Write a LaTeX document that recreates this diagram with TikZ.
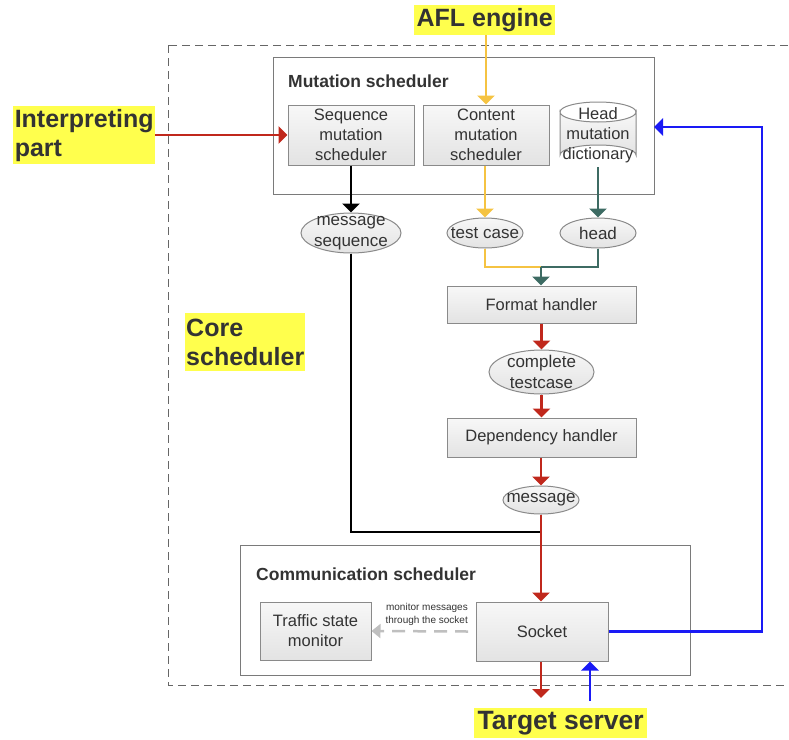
\documentclass[tikz,border=0pt]{standalone}
\usepackage{fontspec}
\setmainfont{Liberation Sans}
\usetikzlibrary{arrows.meta,shapes.geometric,calc}
\definecolor{redA}{HTML}{C0281C}
\definecolor{yelA}{HTML}{F5C342}
\definecolor{tealA}{HTML}{3D6B63}
\definecolor{bluA}{HTML}{1A1AF5}
\definecolor{hiY}{HTML}{FFFF4D}
\definecolor{txtA}{HTML}{333333}
\definecolor{bordA}{HTML}{8A8A8A}
\definecolor{grpA}{HTML}{7A7A7A}
\begin{document}
\begin{tikzpicture}[x=1pt,y=-1pt,
  box/.style={draw=bordA, line width=1pt, top color=gray!6, bottom color=gray!22, align=center, text=txtA,
    font=\fontsize{16.5}{20}\selectfont, inner sep=0pt},
  oval/.style={ellipse, draw=bordA, line width=1pt, top color=gray!6, bottom color=gray!22, align=center, text=txtA,
    font=\fontsize{17}{20.5}\selectfont, inner xsep=-20pt, inner ysep=-14pt},
  grp/.style={draw=grpA, line width=0.8pt, inner sep=0pt},
  title/.style={font=\bfseries\fontsize{17.5}{20}\selectfont, text=txtA, anchor=west, inner sep=0pt},
  hl/.style={fill=hiY, font=\bfseries\fontsize{25}{29}\selectfont, text=txtA, align=left, inner sep=1pt},
  con/.style={line width=2.5pt},
  arr/.style={con, -{Triangle[width=17pt,length=9pt]}}
]
\useasboundingbox (0,0) rectangle (789,739);
% outer dashed
\draw[draw=gray!80!black, line width=0.8pt, dash pattern=on 8pt off 5pt] (168,45) rectangle (800,685);
% groups
\node[grp, minimum width=381pt, minimum height=137pt] (mutbox) at (463.5,125.5) {};
\node[title] (muttitle) at (288,81) {Mutation scheduler};
\node[grp, minimum width=450pt, minimum height=130pt] (combox) at (465,610) {};
\node[title] (comtitle) at (256,574) {Communication scheduler};
% boxes
\node[box, minimum width=126pt, minimum height=60pt] (seq) at (351,135) {Sequence\\mutation\\scheduler};
\node[box, minimum width=126pt, minimum height=60pt] (content) at (486,135) {Content\\mutation\\scheduler};
% cylinder
\shade[top color=gray!6, bottom color=gray!22, draw=bordA, line width=1pt]
  (560,112) -- (560,155) arc[start angle=180, end angle=360, x radius=38pt, y radius=-10pt] -- (636,112)
  arc[start angle=0, end angle=180, x radius=38pt, y radius=-10pt] -- cycle;
\draw[draw=bordA, line width=1pt] (560,112) arc[start angle=180, end angle=360, x radius=38pt, y radius=-10pt];
\node[align=center, text=txtA, font=\fontsize{16.5}{20}\selectfont, inner sep=0pt, minimum width=76pt, minimum height=63pt] (dict) at (598,135.5) {Head\\mutation\\dictionary};
% ovals
\node[oval, minimum width=100pt, minimum height=40pt] (msgseq) at (351,233) {message\\sequence};
\node[oval, minimum width=76pt, minimum height=30pt] (testcase) at (485,233) {test case};
\node[oval, minimum width=76pt, minimum height=30pt] (head) at (598,233) {head};
\node[box, minimum width=189pt, minimum height=37pt] (format) at (541.5,304.5) {Format handler};
\node[oval, minimum width=105pt, minimum height=44pt] (complete) at (541.5,372) {complete\\testcase};
\node[box, minimum width=189pt, minimum height=39pt] (dep) at (541.5,437.5) {Dependency handler};
\node[oval, minimum width=76pt, minimum height=28pt] (message) at (541,500) {message};
\node[box, minimum width=111pt, minimum height=58pt] (traffic) at (315.5,631) {Traffic state\\monitor};
\node[box, minimum width=132pt, minimum height=59pt] (socket) at (542,631.5) {Socket};
\node[align=right, text=txtA, font=\fontsize{10}{13}\selectfont, inner sep=0pt, anchor=east] (mlabel) at (468,614.5) {monitor messages\\through the socket};
% highlighted labels
\node[hl, anchor=north west, minimum width=142pt, minimum height=58pt] (interp) at (13,106) {Interpreting\\part};
\node[hl, anchor=north west, minimum width=141pt, minimum height=30pt, align=center] (afl) at (414,5) {AFL engine};
\node[hl, anchor=north west, minimum width=173pt, minimum height=30pt, align=left, font=\bfseries\fontsize{26.5}{29}\selectfont] (target) at (474,708) {Target server};
\node[hl, anchor=north west, minimum width=120pt, minimum height=58pt] (core) at (185,313) {Core\\scheduler};
% coordinates
\coordinate (join) at (541,532);
\coordinate (merge) at (541,267);
\coordinate (bluein) at (654,127);
\coordinate (blueturn) at (762,0);
\coordinate (redout) at (541,698);
\coordinate (bluestart) at (590,701);
% connectors
\draw[arr, redA] (interp.east |- seq.west) -- (seq.west);
\draw[arr, yelA] (afl.south -| content.north) -- (content.north);
\draw[arr, black] (seq.south) -- (msgseq.north);
\draw[arr, yelA] (content.south -| testcase.north) -- (testcase.north);
\draw[arr, tealA] (dict.south -| head.north) -- (head.north);
\draw[con, black] (msgseq.south) |- (join);
\draw[con, yelA] (testcase.south) |- (merge);
\draw[con, tealA] (head.south) |- (merge);
\draw[arr, tealA] (merge) -- (format.north -| merge);
\draw[arr, redA] (format.south -| complete.north) -- (complete.north);
\draw[arr, redA] (complete.south) -- (dep.north -| complete.south);
\draw[arr, redA] (dep.south -| message.north) -- (message.north);
\draw[arr, redA] (message.south) -- (socket.north -| message.south);
\draw[arr, redA] (socket.south -| redout) -- (redout);
\draw[arr, bluA] (bluestart) -- (socket.south -| bluestart);
\draw[arr, bluA] (socket.east) -- (socket.east -| blueturn) |- (bluein);
\draw[line width=2.5pt, gray!50, dash pattern=on 13pt off 8pt, -{Triangle[width=14pt,length=9pt]}] (socket.west -| 468,0) -- (traffic.east) ;
\end{tikzpicture}
\end{document}
